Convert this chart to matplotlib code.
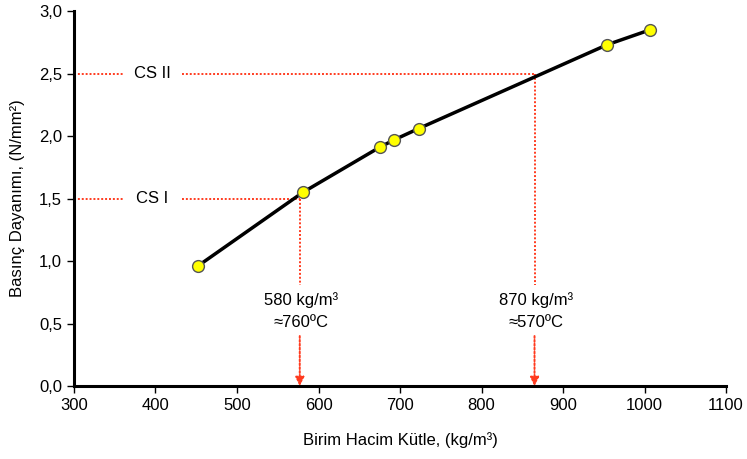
"""
Basinc dayanimi - birim hacim kutle grafigi.
"""

import matplotlib
matplotlib.use("Agg")
import matplotlib.pyplot as plt

# Data
density = [452, 581, 675, 693, 723, 954, 1007]
strength = [0.96, 1.55, 1.91, 1.97, 2.06, 2.73, 2.85]

class_names = ["CS I", "CS II"]
class_limits = [1.5, 2.5]
limit_density = [580, 870]        # as labelled
limit_line_x = [577, 865]         # where the dotted drop lines sit
limit_temps = ["≈760ºC", "≈570ºC"]

RED = "#ff3b1f"
DOT = (0, (1, 1))

plt.rcParams["font.family"] = ["Liberation Sans", "DejaVu Sans"]
plt.rcParams["font.size"] = 12


def main():
    fig = plt.figure(figsize=(7.47, 4.59), dpi=100)
    ax = fig.add_axes([0.099, 0.159, 0.873, 0.817])

    # Class limit lines (horizontal, with a gap for the label)
    for name, lim, lx in zip(class_names, class_limits, limit_line_x):
        ax.plot([300, 360], [lim, lim], color=RED, linestyle=DOT, linewidth=1.4)
        ax.plot([432, lx], [lim, lim], color=RED, linestyle=DOT, linewidth=1.4)
        ax.text(396, lim, name, ha="center", va="center", fontsize=12)

        # vertical down to the axis, gap for the text
        ax.plot([lx, lx], [lim, 0.81], color=RED, linestyle=DOT, linewidth=1.4)
        ax.annotate("", xy=(lx, 0.0), xytext=(lx, 0.40),
                    arrowprops=dict(arrowstyle="-|>", color=RED, linestyle=DOT,
                                    linewidth=1.4, mutation_scale=13,
                                    shrinkA=0, shrinkB=0))

    for dens, lx, temp in zip(limit_density, limit_line_x, limit_temps):
        ax.text(lx + 2, 0.69, f"{dens} kg/m³", ha="center", va="center", fontsize=12)
        ax.text(lx + 2, 0.51, temp, ha="center", va="center", fontsize=12)

    ax.plot(density, strength, color="black", linewidth=2.5, zorder=3)
    ax.plot(density, strength, linestyle="none", marker="o", markersize=8.5,
            markerfacecolor="#ffff00", markeredgecolor="#555555",
            markeredgewidth=1.0, zorder=4)

    ax.set_xlim(300, 1100)
    ax.set_ylim(0, 3.0)
    ax.set_xticks(range(300, 1101, 100))
    ax.set_yticks([0, 0.5, 1.0, 1.5, 2.0, 2.5, 3.0])
    ax.set_yticklabels([f"{v:.1f}".replace(".", ",") for v in ax.get_yticks()])

    ax.spines["top"].set_visible(False)
    ax.spines["right"].set_visible(False)
    ax.spines["left"].set_linewidth(2.2)
    ax.spines["bottom"].set_linewidth(2.2)
    ax.tick_params(direction="out", length=5, width=1, labelsize=12)

    ax.set_xlabel("Birim Hacim Kütle, (kg/m³)", fontsize=12, labelpad=14)
    ax.set_ylabel("Basınç Dayanımı, (N/mm²)", fontsize=12, labelpad=10)

    fig.savefig("out.png", dpi=100)


if __name__ == "__main__":
    main()
